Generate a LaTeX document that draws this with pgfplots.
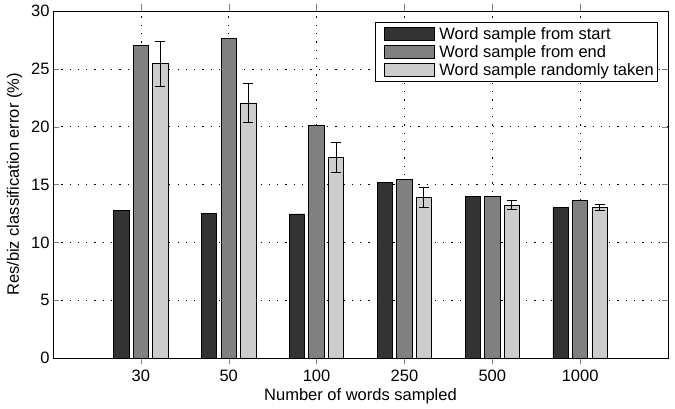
\documentclass[border=0pt]{standalone}
\usepackage{fontspec}
\setmainfont{Liberation Sans}
\usepackage{pgfplots}
\pgfplotsset{compat=1.18}
\definecolor{cA}{HTML}{333333}
\definecolor{cB}{HTML}{808080}
\definecolor{cC}{HTML}{CDCDCD}
\pgfplotsset{boxlegend/.style={legend image code/.code={\path (-6pt,0) (53pt,0);\draw[##1] (0pt,-6.7pt) rectangle (50pt,6.7pt);}}}
\begin{document}
\begin{tikzpicture}
\begin{axis}[
  scale only axis, width=615pt, height=347pt,
  xmin=0, xmax=7, ymin=0, ymax=30,
  xtick={1,...,6}, xticklabels={30,50,100,250,500,1000},
  ytick={0,5,...,30},
  tick align=inside, xtick pos=both, ytick pos=both,
  major tick length=6.5pt,
  /pgf/number format/assume math mode=true,
  tick label style={font=\fontsize{16.5}{19.5}\selectfont},
  label style={font=\fontsize{16.5}{19.5}\selectfont},
  xlabel={Number of words sampled},
  ylabel={Res/biz classification error (\%)},
  xlabel style={at={(axis description cs:0.5,0)}, anchor=base, yshift=-42.7pt},
  ylabel shift=2pt,
  xticklabel style={yshift=-2pt},
  grid=major,
  major grid style={black, line width=0.6pt, dash pattern=on 1.3pt off 7pt},
  axis line style={line width=0.9pt},
  ybar, bar width=0.175,
  boxlegend,
  legend style={at={(0.984,0.969)}, anchor=north east, draw=black, line width=0.8pt,
    font=\fontsize{16.5}{19.5}\selectfont, row sep=0.5pt, inner xsep=2pt, inner ysep=3pt},
  legend cell align=left,
]
\addplot[fill=cA, draw=black, line width=0.8pt, bar shift=-0.222]
  coordinates {(1,12.75) (2,12.5) (3,12.45) (4,15.15) (5,14.0) (6,13.0)};
\addlegendentry{Word sample from start}
\addplot[fill=cB, draw=black, line width=0.8pt, bar shift=0]
  coordinates {(1,27.0) (2,27.6) (3,20.1) (4,15.45) (5,14.0) (6,13.65)};
\addlegendentry{Word sample from end}
\addplot[fill=cC, draw=black, line width=0.8pt, bar shift=0.222,
  error bars/.cd, y dir=both, y explicit,
  error bar style={black, line width=0.9pt},
  error mark options={rotate=90, mark size=5pt, black, line width=0.9pt}]
  coordinates {(1,25.45) +- (0,1.95) (2,22.05) +- (0,1.7) (3,17.3) +- (0,1.3)
               (4,13.9) +- (0,0.85) (5,13.2) +- (0,0.38) (6,13.0) +- (0,0.28)};
\addlegendentry{Word sample randomly taken}
\end{axis}
\path ([xshift=-53pt,yshift=-51pt]current axis.south west) rectangle ([xshift=7pt,yshift=11pt]current axis.north east);
\end{tikzpicture}
\end{document}
